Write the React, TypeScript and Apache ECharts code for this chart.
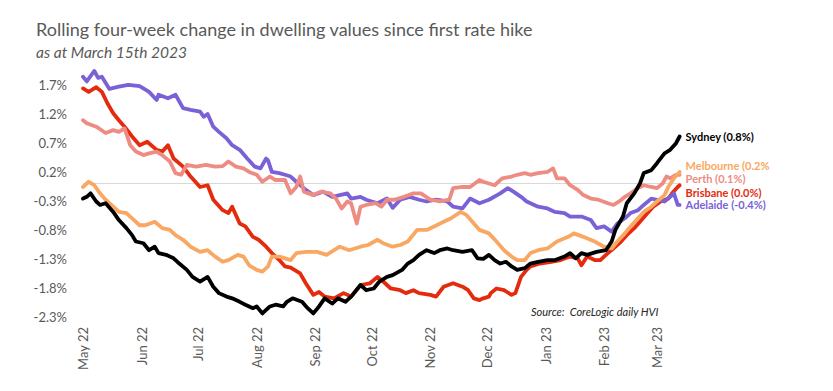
import React, { useEffect, useRef } from 'react';
import * as echarts from 'echarts';

// Day offsets from 1 May 2022
const monthDays = [0, 31, 61, 92, 123, 153, 184, 214, 245, 276, 304];
const monthLabels = ['May 22', 'Jun 22', 'Jul 22', 'Aug 22', 'Sep 22', 'Oct 22', 'Nov 22', 'Dec 22', 'Jan 23', 'Feb 23', 'Mar 23'];

const seriesNames = ['Brisbane', 'Adelaide', 'Perth', 'Melbourne', 'Sydney'];
const endLabels = ['Brisbane (0.0%)', 'Adelaide (-0.4%)', 'Perth (0.1%)', 'Melbourne (0.2%', 'Sydney (0.8%)'];
const seriesColors = ['#E52B0E', '#7B61D6', '#EE8C83', '#F8A862', '#000000'];

const sydneyDays = [0,2,4,7,9,12,16,19,23,26, 28,32,35,38,40,44,48,51,55,58, 62,66,69,72,76,79,83,86,90,92, 95,99,102,106,108,111,116,119,122,125, 128,132,135,139,142,147,150,154,157,161, 164,169,172,175,178,182,186,189,193,196, 201,206,209,212,215,218,221,224,227,230, 234,237,241,246,250,255,258,261,264,267, 272,277,280,282,286,288,292,295,297,301, 304,308,311,314,316];
const sydneyValues = [-0.26,-0.23,-0.17,-0.31,-0.37,-0.34,-0.49,-0.63,-0.77,-0.89, -1.00,-1.03,-1.15,-1.09,-1.20,-1.23,-1.29,-1.38,-1.49,-1.61, -1.69,-1.61,-1.78,-1.89,-1.95,-1.98,-2.04,-2.09,-2.15,-2.12, -2.24,-2.12,-2.09,-2.12,-2.04,-1.98,-2.04,-2.15,-2.24,-2.12, -1.98,-2.07,-1.98,-2.04,-1.95,-1.75,-1.84,-1.81,-1.69,-1.61, -1.58,-1.49,-1.38,-1.32,-1.23,-1.15,-1.20,-1.15,-1.12,-1.15, -1.18,-1.15,-1.29,-1.30,-1.23,-1.32,-1.38,-1.35,-1.43,-1.49, -1.46,-1.38,-1.35,-1.32,-1.32,-1.26,-1.20,-1.29,-1.20,-1.23, -1.18,-1.15,-1.00,-0.80,-0.57,-0.34,-0.17,0.00,0.18,0.23, 0.35,0.52,0.58,0.69,0.81];

const melbourneDays = [0,3,6,9,12,16,19,23,26,30, 33,38,42,46,49,53,57,62,66,70, 74,77,82,85,88,92,95,98,100,104, 107,110,113,118,124,129,133,136,141,147, 151,156,159,164,168,172,177,182,186,191, 195,200,203,207,210,215,219,223,227,230, 234,237,241,246,251,257,260,265,271,276, 280,283,287,290,294,297,301,304,308,310, 313,316];
const melbourneValues = [-0.06,0.03,-0.03,-0.17,-0.28,-0.40,-0.49,-0.51,-0.60,-0.72, -0.72,-0.66,-0.77,-0.80,-0.89,-0.97,-1.09,-1.18,-1.15,-1.26, -1.35,-1.32,-1.23,-1.26,-1.41,-1.49,-1.52,-1.43,-1.26,-1.26, -1.29,-1.32,-1.20,-1.18,-1.18,-1.23,-1.15,-1.09,-1.15,-1.09, -1.06,-0.97,-1.03,-1.09,-1.06,-1.00,-0.80,-0.80,-0.74,-0.66, -0.60,-0.49,-0.54,-0.69,-0.80,-0.86,-1.00,-1.15,-1.26,-1.32, -1.32,-1.20,-1.15,-1.12,-1.00,-0.92,-0.86,-0.92,-1.00,-1.09, -1.12,-1.00,-0.86,-0.74,-0.60,-0.49,-0.40,-0.31,-0.20,-0.06, 0.09,0.20];

const perthDays = [0,2,7,12,16,19,22,25,28,32, 35,39,42,46,49,52,55,60,65,70, 74,77,81,85,88,92,95,99,102,107, 110,113,115,117,122,126,131,134,137,140, 142,145,147,150,155,158,161,165,170,175, 179,184,189,194,196,201,205,210,212,215, 218,222,227,230,234,237,241,246,249,251, 255,258,262,265,269,273,278,281,284,287, 290,294,297,301,304,307,309,311,314,316];
const perthValues = [1.09,1.04,0.98,0.87,0.92,0.89,0.95,0.66,0.55,0.49, 0.52,0.55,0.49,0.38,0.18,0.15,0.32,0.29,0.32,0.29, 0.30,0.38,0.29,0.26,0.20,0.15,0.03,0.12,0.06,0.06, -0.17,-0.06,0.12,-0.14,-0.20,-0.14,-0.17,-0.26,-0.43,-0.31, -0.34,-0.69,-0.40,-0.37,-0.34,-0.40,-0.28,-0.28,-0.23,-0.17, -0.17,-0.28,-0.31,-0.28,-0.08,-0.06,-0.06,0.06,0.03,0.00, -0.03,0.09,0.12,0.15,0.18,0.15,0.18,0.20,0.26,0.09, 0.09,-0.03,-0.11,-0.20,-0.26,-0.28,-0.34,-0.37,-0.31,-0.23, -0.17,-0.08,-0.03,-0.06,-0.08,0.00,0.12,0.09,0.15,0.15];

const brisbaneDays = [0,3,7,10,13,16,19,22,26,30, 34,39,42,45,48,53,57,62,66,69, 74,77,79,83,86,90,93,97,100,104, 107,110,115,118,122,125,128,133,138,142, 147,152,156,159,163,168,171,175,178,184, 187,191,196,201,204,207,210,212,215,216, 219,223,227,229,232,235,237,242,248,253, 258,262,264,267,271,274,278,281,285,288, 292,295,299,302,306,310,312,315,316];
const brisbaneValues = [1.64,1.58,1.66,1.58,1.38,1.21,1.09,0.98,0.81,0.66, 0.72,0.58,0.55,0.66,0.43,0.29,0.12,-0.06,-0.03,-0.28, -0.46,-0.51,-0.40,-0.69,-0.74,-0.92,-0.97,-1.09,-1.20,-1.32, -1.43,-1.45,-1.55,-1.72,-1.92,-1.87,-1.95,-1.98,-1.89,-1.95, -1.75,-1.72,-1.61,-1.69,-1.81,-1.84,-1.89,-1.84,-1.89,-1.92, -1.95,-1.78,-1.72,-1.78,-1.84,-1.98,-2.01,-1.98,-1.95,-1.89, -1.81,-1.84,-1.92,-1.89,-1.61,-1.49,-1.43,-1.38,-1.35,-1.32, -1.26,-1.29,-1.41,-1.26,-1.32,-1.32,-1.20,-1.12,-1.00,-0.89, -0.77,-0.66,-0.51,-0.40,-0.31,-0.26,-0.17,-0.06,-0.03];

const adelaideDays = [0,2,6,8,10,14,19,24,30,35, 39,40,45,49,53,57,62,64,66,69, 72,76,79,83,87,91,94,97,98,100, 104,107,110,113,118,122,127,132,136,140, 142,147,150,156,161,164,168,173,178,182, 187,193,196,201,205,210,215,221,225,228, 232,235,241,246,250,255,258,264,269,272, 276,280,283,287,290,294,297,301,304,308, 311,313,315,316];
const adelaideValues = [1.84,1.76,1.94,1.82,1.84,1.63,1.67,1.70,1.68,1.58, 1.44,1.53,1.47,1.53,1.30,1.27,1.24,1.15,1.20,0.98, 0.89,0.78,0.66,0.58,0.43,0.29,0.26,0.43,0.40,0.20, 0.18,0.15,0.12,0.03,-0.11,-0.20,-0.14,-0.23,-0.20,-0.17, -0.26,-0.23,-0.28,-0.34,-0.26,-0.42,-0.28,-0.23,-0.28,-0.31, -0.28,-0.31,-0.40,-0.43,-0.26,-0.34,-0.28,-0.17,-0.08,-0.14, -0.23,-0.31,-0.40,-0.43,-0.49,-0.51,-0.57,-0.57,-0.63,-0.77, -0.74,-0.83,-0.69,-0.60,-0.51,-0.46,-0.37,-0.26,-0.28,-0.31, -0.23,-0.17,-0.37,-0.37];

const titleText = 'Rolling four-week change in dwelling values since first rate hike';
const subtitleText = 'as at March 15th 2023';
const sourceText = 'Source:  CoreLogic daily HVI';

const FONT = 'Lato';

function zip(days: number[], values: number[]) {
  return days.map((d, i) => [d, values[i]]);
}

export default function App() {
  const ref = useRef<HTMLDivElement>(null);
  useEffect(() => {
    if (!ref.current) return;
    const chart = echarts.init(ref.current, undefined, { renderer: 'svg' });
    const allData = [
      zip(brisbaneDays, brisbaneValues),
      zip(adelaideDays, adelaideValues),
      zip(perthDays, perthValues),
      zip(melbourneDays, melbourneValues),
      zip(sydneyDays, sydneyValues),
    ];
    const labelOffsets = [[0, 7], [0, 0], [0, 4], [0, -6], [0, 0]];
    const series: any[] = seriesNames.map((name, i) => ({
      name,
      type: 'line',
      data: allData[i],
      showSymbol: false,
      symbol: 'none',
      smooth: false,
      z: 2 + i,
      lineStyle: { color: seriesColors[i], width: 3.8, cap: 'round', join: 'round' },
      itemStyle: { color: seriesColors[i] },
      endLabel: {
        show: true,
        formatter: () => endLabels[i],
        color: seriesColors[i],
        fontWeight: 'bold',
        fontSize: 11,
        lineHeight: 11,
        fontFamily: FONT,
        distance: 6,
        offset: labelOffsets[i],
      },
      labelLayout: { hideOverlap: false },
      emphasis: { disabled: true },
    }));
    series[0].markLine = {
      silent: true,
      symbol: 'none',
      label: { show: false },
      lineStyle: { color: '#D9D9D9', width: 1, type: 'solid' },
      data: [{ yAxis: 0 }],
      z: 1,
    };
    chart.setOption({
      animation: false,
      backgroundColor: '#ffffff',
      textStyle: { fontFamily: FONT },
      title: [
        {
          text: titleText,
          left: 36,
          top: 20,
          padding: 0,
          textStyle: { fontSize: 18, fontWeight: 'normal', color: '#595959', fontFamily: FONT },
        },
        {
          text: subtitleText,
          left: 36,
          top: 44,
          padding: 0,
          textStyle: { fontSize: 15.5, fontWeight: 'normal', fontStyle: 'italic', color: '#595959', fontFamily: FONT },
        },
      ],
      grid: { left: 83, right: 151.5, top: 55.9, bottom: 74.1, containLabel: false },
      xAxis: {
        type: 'value',
        min: 0,
        max: 317,
        splitLine: { show: false },
        axisLine: { show: false },
        axisTick: { show: false },
        axisLabel: {
          customValues: monthDays,
          rotate: 90,
          margin: 10,
          color: '#595959',
          fontSize: 13,
          fontFamily: FONT,
          formatter: (v: number) => {
            const idx = monthDays.indexOf(Math.round(v));
            return idx >= 0 ? monthLabels[idx] : '';
          },
        },
      },
      yAxis: {
        type: 'value',
        min: -2.3,
        max: 2.2,
        interval: 0.5,
        splitLine: { show: false },
        axisLine: { show: false },
        axisTick: { show: false },
        axisLabel: {
          showMaxLabel: false,
          margin: 16,
          color: '#595959',
          fontSize: 13,
          fontFamily: FONT,
          formatter: (v: number) => v.toFixed(1) + '%',
        },
      },
      graphic: [
        {
          type: 'text',
          left: 531,
          top: 306,
          style: { text: sourceText, fill: '#262626', font: 'italic 11px ' + FONT },
        },
      ],
      series,
    });
    return () => chart.dispose();
  }, []);
  return <div ref={ref} style={{ position: 'fixed', left: 0, top: 0, width: 833, height: 391, background: '#fff' }} />;
}
